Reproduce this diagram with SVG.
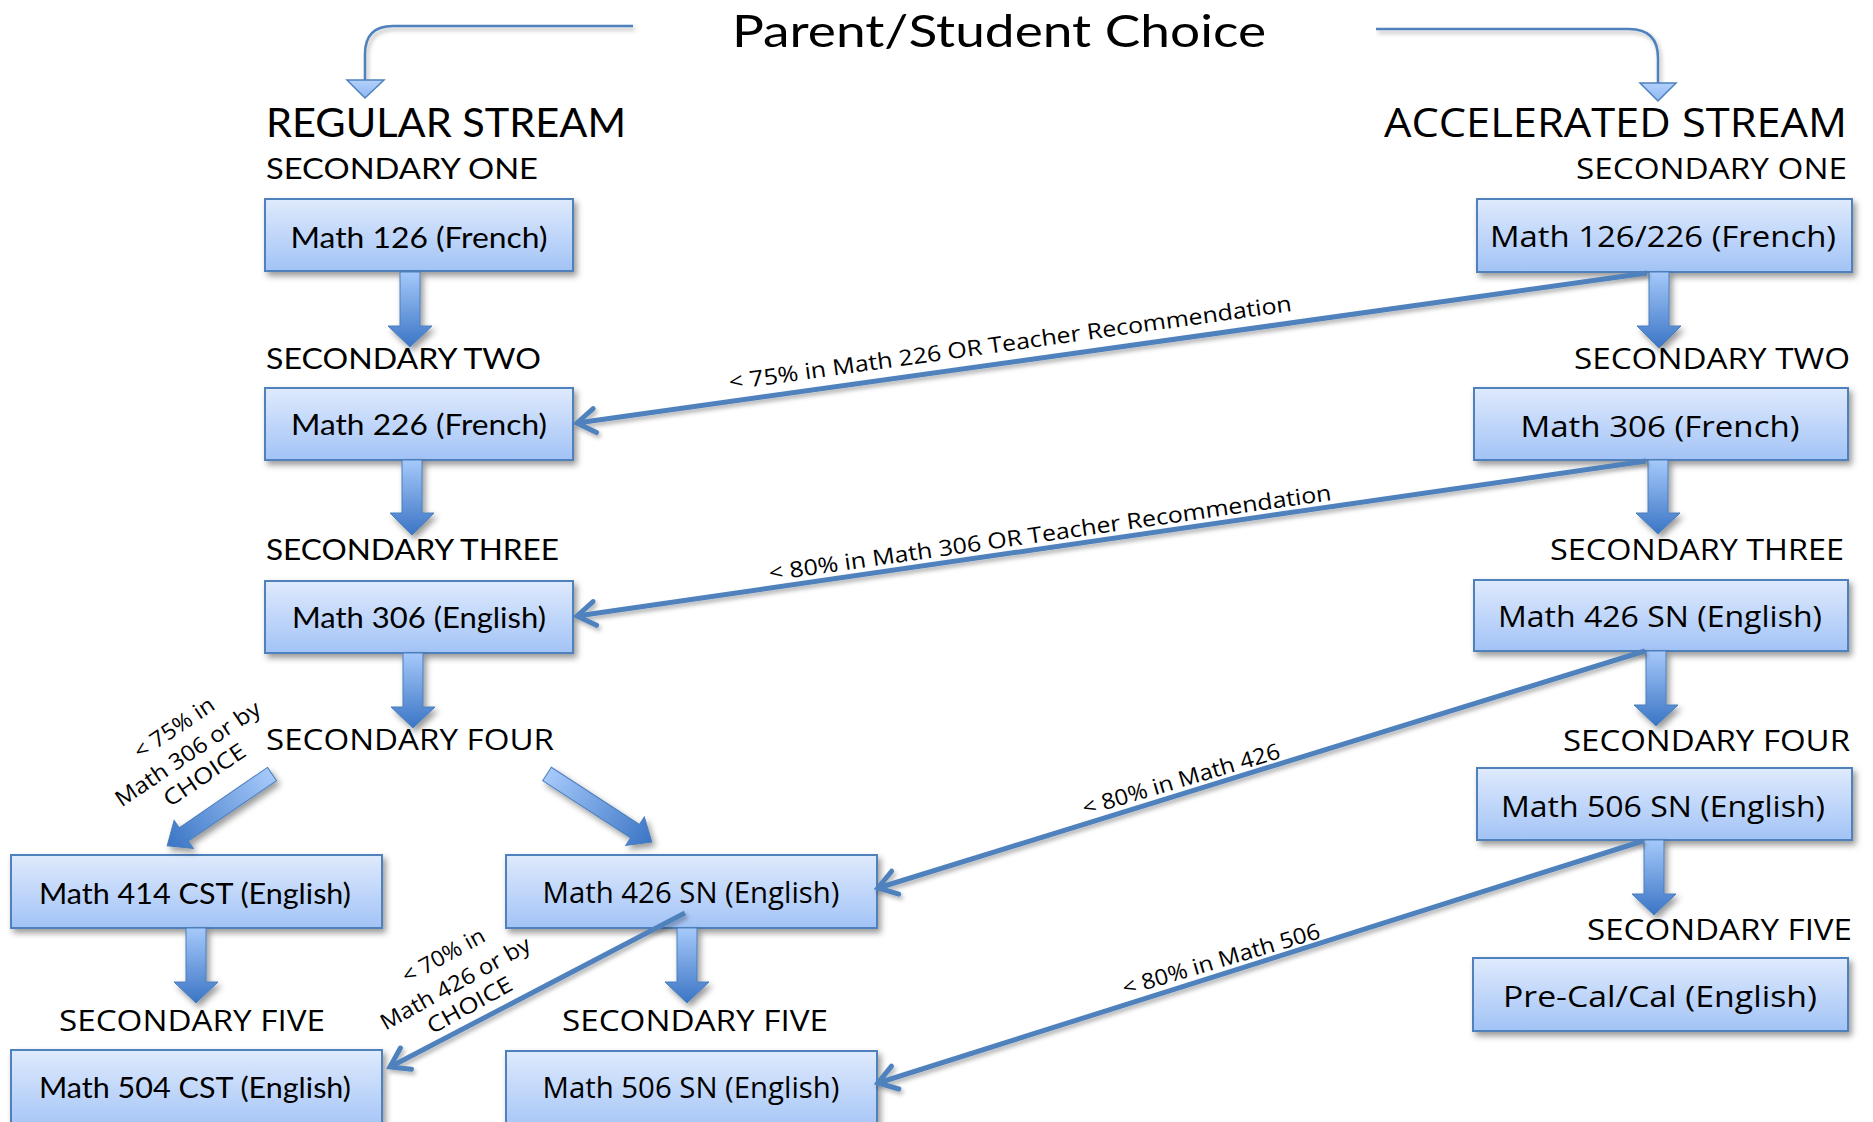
<svg xmlns="http://www.w3.org/2000/svg" width="1873" height="1122" viewBox="0 0 1873 1122">
<defs>
<linearGradient id="boxg" x1="0" y1="0" x2="0" y2="1"><stop offset="0" stop-color="#dfeafd"/><stop offset="1" stop-color="#a2c3f6"/></linearGradient>
<linearGradient id="arrg" x1="0" y1="0" x2="0" y2="1"><stop offset="0" stop-color="#a6c9fa"/><stop offset="1" stop-color="#3b75c5"/></linearGradient>
<linearGradient id="trig" x1="0" y1="0" x2="0" y2="1"><stop offset="0" stop-color="#b3d0fb"/><stop offset="1" stop-color="#8fb8f3"/></linearGradient>
<filter id="sh" x="-20%" y="-20%" width="150%" height="160%"><feDropShadow dx="3" dy="4" stdDeviation="3" flood-color="#000" flood-opacity="0.4"/></filter>
<filter id="lsh" x="-10%" y="-30%" width="120%" height="170%"><feDropShadow dx="2" dy="3" stdDeviation="2" flood-color="#000" flood-opacity="0.3"/></filter>
<marker id="oa" markerUnits="userSpaceOnUse" viewBox="-24 -16 30 32" refX="0" refY="0" markerWidth="30" markerHeight="32" orient="auto">
<path d="M -18 -12 L 0 0 L -18 12" fill="none" stroke="#4f81bd" stroke-width="5" stroke-linecap="round"/>
</marker>
</defs>
<style>
.box{fill:url(#boxg);stroke:#4f81bd;stroke-width:2}
.tw{font-family:Lato,"Liberation Sans",sans-serif;font-weight:400;fill:#000}
.cg{font-family:"Open Sans","DejaVu Sans",sans-serif;font-weight:400;fill:#000}
.bt{font-size:29px;text-anchor:middle}
.sec{font-size:29px}
.blk{fill:url(#arrg);stroke:#4a7ebb;stroke-width:1}
.conn{fill:none;stroke:#4f81bd;stroke-width:5}
.thin{fill:none;stroke:#4f81bd;stroke-width:2.5}
.tri{fill:url(#trig);stroke:#4f81bd;stroke-width:1.5}
.lbl{font-size:22px}
.ml{font-size:22px;text-anchor:middle}
</style>

<rect width="1873" height="1122" fill="#fff"/>

<g id="title">
<text class="tw" x="732" y="47" font-size="44" textLength="534" lengthAdjust="spacingAndGlyphs">Parent/Student Choice</text>
</g>

<g id="headers">
<text class="tw" x="266" y="137" font-size="40" textLength="360" lengthAdjust="spacingAndGlyphs">REGULAR STREAM</text>
<text class="cg" x="1384" y="137" font-size="41" textLength="463" lengthAdjust="spacingAndGlyphs">ACCELERATED STREAM</text>
<text class="tw sec" x="266" y="179" textLength="272" lengthAdjust="spacingAndGlyphs">SECONDARY ONE</text>
<text class="cg sec" x="1576" y="179" textLength="271" lengthAdjust="spacingAndGlyphs">SECONDARY ONE</text>
<text class="tw sec" x="266" y="369" textLength="275" lengthAdjust="spacingAndGlyphs">SECONDARY TWO</text>
<text class="cg sec" x="1574" y="369" textLength="276" lengthAdjust="spacingAndGlyphs">SECONDARY TWO</text>
<text class="tw sec" x="266" y="560" textLength="293" lengthAdjust="spacingAndGlyphs">SECONDARY THREE</text>
<text class="cg sec" x="1550" y="560" textLength="294" lengthAdjust="spacingAndGlyphs">SECONDARY THREE</text>
<text class="cg sec" x="266" y="750" textLength="288" lengthAdjust="spacingAndGlyphs">SECONDARY FOUR</text>
<text class="cg sec" x="1563" y="751" textLength="287" lengthAdjust="spacingAndGlyphs">SECONDARY FOUR</text>
<text class="cg sec" x="59" y="1031" textLength="266" lengthAdjust="spacingAndGlyphs">SECONDARY FIVE</text>
<text class="cg sec" x="562" y="1031" textLength="266" lengthAdjust="spacingAndGlyphs">SECONDARY FIVE</text>
<text class="cg sec" x="1587" y="940" textLength="265" lengthAdjust="spacingAndGlyphs">SECONDARY FIVE</text>
</g>

<g id="math126-french"><rect class="box" filter="url(#sh)" x="265" y="199" width="308" height="72"/><text class="tw bt" x="419" y="248" textLength="257" lengthAdjust="spacingAndGlyphs">Math 126 (French)</text></g>
<g id="math226-french"><rect class="box" filter="url(#sh)" x="265" y="388" width="308" height="72"/><text class="tw bt" x="419" y="435" textLength="256" lengthAdjust="spacingAndGlyphs">Math 226 (French)</text></g>
<g id="math306-english"><rect class="box" filter="url(#sh)" x="265" y="581" width="308" height="72"/><text class="tw bt" x="419" y="628" textLength="254" lengthAdjust="spacingAndGlyphs">Math 306 (English)</text></g>
<g id="math126-226-french"><rect class="box" filter="url(#sh)" x="1477" y="199" width="375" height="73"/><text class="cg bt" x="1663" y="247" font-size="28" textLength="346" lengthAdjust="spacingAndGlyphs">Math 126/226 (French)</text></g>
<g id="math306-french"><rect class="box" filter="url(#sh)" x="1474" y="388" width="374" height="72"/><text class="cg bt" x="1660" y="437" font-size="28" textLength="279" lengthAdjust="spacingAndGlyphs">Math 306 (French)</text></g>
<g id="math426-sn-accel"><rect class="box" filter="url(#sh)" x="1474" y="580" width="374" height="71"/><text class="cg bt" x="1660" y="627" font-size="28" textLength="324" lengthAdjust="spacingAndGlyphs">Math 426 SN (English)</text></g>
<g id="math506-sn-accel"><rect class="box" filter="url(#sh)" x="1477" y="768" width="375" height="72"/><text class="cg bt" x="1663" y="817" font-size="28" textLength="324" lengthAdjust="spacingAndGlyphs">Math 506 SN (English)</text></g>
<g id="precal-cal"><rect class="box" filter="url(#sh)" x="1473" y="958" width="375" height="73"/><text class="cg bt" x="1660" y="1007" font-size="28" textLength="314" lengthAdjust="spacingAndGlyphs">Pre-Cal/Cal (English)</text></g>
<g id="math414-cst"><rect class="box" filter="url(#sh)" x="11" y="855" width="371" height="73"/><text class="tw bt" x="195" y="904" textLength="312" lengthAdjust="spacingAndGlyphs">Math 414 CST (English)</text></g>
<g id="math504-cst"><rect class="box" filter="url(#sh)" x="11" y="1050" width="371" height="82"/><text class="tw bt" x="195" y="1098" textLength="312" lengthAdjust="spacingAndGlyphs">Math 504 CST (English)</text></g>
<g id="math426-sn-regular"><rect class="box" filter="url(#sh)" x="506" y="855" width="371" height="73"/><text class="cg bt" x="691" y="903" font-size="28" textLength="297" lengthAdjust="spacingAndGlyphs">Math 426 SN (English)</text></g>
<g id="math506-sn-regular"><rect class="box" filter="url(#sh)" x="506" y="1051" width="371" height="82"/><text class="cg bt" x="691" y="1098" font-size="28" textLength="297" lengthAdjust="spacingAndGlyphs">Math 506 SN (English)</text></g>

<g id="connectors">
<g filter="url(#lsh)">
<path class="thin" d="M 633 26 L 393 26 Q 365 26 365 54 L 365 80"/>
<path class="thin" d="M 1376 29 L 1629 29 Q 1658 29 1658 58 L 1658 83"/>
</g>
<polygon class="tri" points="347,80 384,80 365,98"/>
<polygon class="tri" points="1640,83 1676,83 1658,101"/>

<g filter="url(#sh)">
<path class="blk" d="M 400 272 L 420 272 L 420 326 L 432 326 L 410 347 L 388 326 L 400 326 Z"/>
<path class="blk" d="M 402 460 L 422 460 L 422 513 L 434 513 L 412 535 L 390 513 L 402 513 Z"/>
<path class="blk" d="M 403 653 L 423 653 L 423 707 L 435 707 L 413 728 L 391 707 L 403 707 Z"/>
<path class="blk" d="M 1649 272 L 1669 272 L 1669 326 L 1681 326 L 1659 348 L 1637 326 L 1649 326 Z"/>
<path class="blk" d="M 1648 460 L 1668 460 L 1668 513 L 1680 513 L 1658 534 L 1636 513 L 1648 513 Z"/>
<path class="blk" d="M 1646 651 L 1666 651 L 1666 705 L 1678 705 L 1656 726 L 1634 705 L 1646 705 Z"/>
<path class="blk" d="M 1644 840 L 1664 840 L 1664 894 L 1676 894 L 1654 915 L 1632 894 L 1644 894 Z"/>
<path class="blk" d="M 186 928 L 206 928 L 206 982 L 218 982 L 196 1003 L 174 982 L 186 982 Z"/>
<path class="blk" d="M 677 928 L 697 928 L 697 982 L 709 982 L 687 1003 L 665 982 L 677 982 Z"/>
<path class="blk" transform="translate(272,774) rotate(55.6)" d="M -8 0 L 8 0 L 8 107 L 17 107 L 0 127 L -17 107 L -8 107 Z"/>
<path class="blk" transform="translate(547,774) rotate(-57)" d="M -8 0 L 8 0 L 8 105 L 17 105 L 0 125 L -17 105 L -8 105 Z"/>
</g>

<g filter="url(#lsh)">
<path class="conn" marker-end="url(#oa)" d="M 1647 273 L 577 423"/>
<path class="conn" marker-end="url(#oa)" d="M 1646 461 L 577 616"/>
<path class="conn" marker-end="url(#oa)" d="M 1645 651 L 878 888"/>
<path class="conn" marker-end="url(#oa)" d="M 1643 841 L 878 1083"/>
<path class="conn" marker-end="url(#oa)" d="M 685 913 L 390 1067"/>
</g>
</g>

<g id="edge-labels">
<text class="cg lbl" transform="translate(730,390) rotate(-8)" textLength="568" lengthAdjust="spacingAndGlyphs">&lt; 75% in Math 226 OR Teacher Recommendation</text>
<text class="cg lbl" transform="translate(770,581) rotate(-8.2)" textLength="568" lengthAdjust="spacingAndGlyphs">&lt; 80% in Math 306 OR Teacher Recommendation</text>
<text class="cg lbl" transform="translate(1085,816) rotate(-16.5)" textLength="205" lengthAdjust="spacingAndGlyphs">&lt; 80% in Math 426</text>
<text class="cg lbl" transform="translate(1125,996) rotate(-16.5)" textLength="205" lengthAdjust="spacingAndGlyphs">&lt; 80% in Math 506</text>
<g transform="translate(192,760) rotate(-34)">
<text class="cg ml" x="3" y="-29" textLength="92" lengthAdjust="spacingAndGlyphs">&lt; 75% in</text>
<text class="cg ml" x="0" y="0" textLength="170" lengthAdjust="spacingAndGlyphs">Math 306 or by</text>
<text class="cg ml" x="2" y="27" textLength="94" lengthAdjust="spacingAndGlyphs">CHOICE</text>
</g>
<g transform="translate(459,990) rotate(-29)">
<text class="cg ml" x="3" y="-30" textLength="91" lengthAdjust="spacingAndGlyphs">&lt; 70% in</text>
<text class="cg ml" x="0" y="0" textLength="168" lengthAdjust="spacingAndGlyphs">Math 426 or by</text>
<text class="cg ml" x="2" y="26" textLength="94" lengthAdjust="spacingAndGlyphs">CHOICE</text>
</g>
</g>
</svg>
